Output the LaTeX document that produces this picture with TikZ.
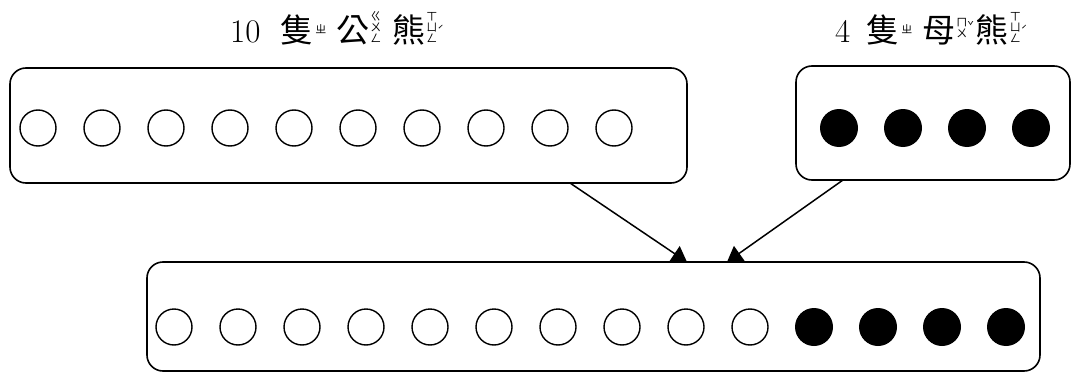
\documentclass[tikz,border=0pt]{standalone}
\usepackage{fontspec}
\newfontfamily\cjk{Noto Sans CJK TC}
\usetikzlibrary{arrows.meta}
\newcommand\zystack[2]{\raisebox{#1}{\cjk\fontsize{11}{11}\selectfont\vbox{\baselineskip=11pt\lineskiplimit=-20pt\lineskip=0pt\halign{\hfil##\hfil\cr #2\cr}}}}
\newcommand\zytone[2]{\raisebox{#1}{\cjk\fontsize{11}{11}\selectfont #2}}
\tikzset{
  box/.style={draw, line width=1.6pt, rounded corners=16pt, inner sep=0pt},
  wball/.style={circle, draw, line width=1.4pt, minimum size=36pt, inner sep=0pt},
  bball/.style={circle, fill=black, minimum size=38pt, inner sep=0pt},
  conn/.style={line width=1.5pt, -{Triangle[length=15pt,width=18pt]}},
  lbl/.style={anchor=base west, inner sep=0pt, font=\fontsize{33}{36}\selectfont}
}
\begin{document}
\begin{tikzpicture}[x=1pt,y=-1pt]
\useasboundingbox (0,0) rectangle (1072,372);
% boxes
\node (top) [box, minimum width=677pt, minimum height=115pt] at (348.5,125.5) {};
\node (topr) [box, minimum width=274pt, minimum height=114pt] at (933,123) {};
\node (bot) [box, minimum width=893pt, minimum height=109pt] at (593.5,316.5) {};
% balls
\foreach \i in {0,...,9} \node (t\i) [wball] at (38+64*\i,128) {};
\foreach \i in {0,...,3} \node (r\i) [bball] at (839+64*\i,128) {};
\foreach \i in {0,...,9} \node (b\i) [wball] at (174+64*\i,327) {};
\foreach \i in {10,...,13} \node (b\i) [bball] at (174+64*\i,327) {};
% labels
\node (lab1) [lbl] at (230,42) {10\hspace{20pt}{\cjk 隻}\hspace{2pt}\zystack{9pt}{ㄓ}\hspace{10pt}{\cjk 公}\hspace{1pt}\zystack{0pt}{ㄍ\cr ㄨ\cr ㄥ}\hspace{11pt}{\cjk 熊}\hspace{1pt}\zystack{0pt}{ㄒ\cr ㄩ\cr ㄥ}\zytone{8pt}{ˊ}};
\node (lab2) [lbl] at (835,42) {4\hspace{16pt}{\cjk 隻}\hspace{2pt}\zystack{9pt}{ㄓ}\hspace{10pt}{\cjk 母}\hspace{1pt}\zystack{5pt}{ㄇ\cr ㄨ}\zytone{12pt}{ˇ}\hspace{2pt}{\cjk 熊}\hspace{1pt}\zystack{0pt}{ㄒ\cr ㄩ\cr ㄥ}\zytone{8pt}{ˊ}};
% arrows
\coordinate (s1) at (570,183);
\coordinate (e1) at (687,262);
\coordinate (s2) at (843,180);
\coordinate (e2) at (727,262);
\draw[conn] (s1) -- (e1);
\draw[conn] (s2) -- (e2);
\end{tikzpicture}
\end{document}
